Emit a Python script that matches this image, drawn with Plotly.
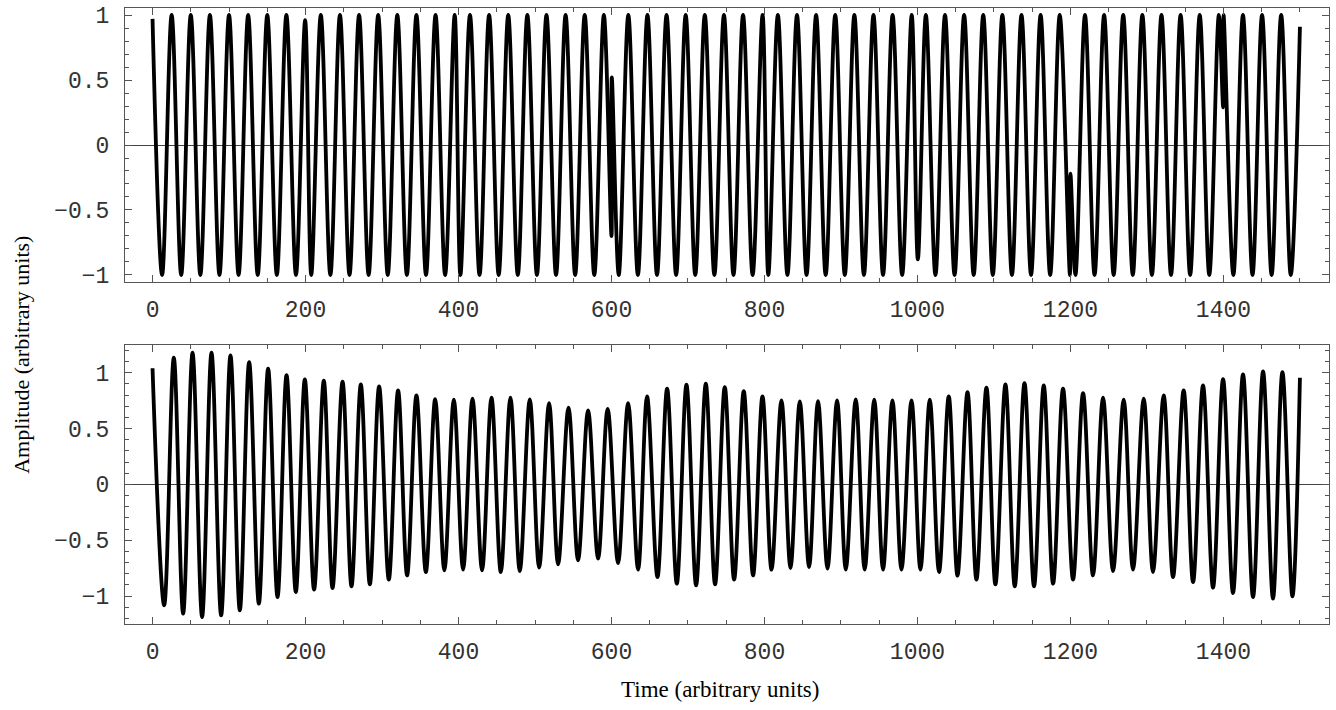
import plotly.graph_objects as go
from plotly.subplots import make_subplots

# upper trace: turning points (time, amplitude)
top_t = [0, 12.5, 25, 37.5, 50, 62.5, 75, 87.5, 100, 112.5, 125, 137.5, 150, 162.5, 175, 187.5,
         199.5, 207.5, 220, 232.5, 245, 257.5, 270, 282.5, 295, 307.5, 320, 332.5, 345, 357.5,
         370, 382.5, 395, 402.5, 415, 427.5, 440, 452.5, 465, 477.5, 490, 502.5, 515, 527.5,
         540, 552.5, 565, 577.5, 590, 600, 600.4, 609.5, 622, 634.5, 647, 659.5, 672, 684.5,
         697, 709.5, 722, 734.5, 747, 759.5, 772, 784.5, 797.5, 805, 817.5, 830, 842.5, 855,
         867.5, 880, 892.5, 905, 917.5, 930, 942.5, 955, 967.5, 980, 992.5, 1000.5, 1011,
         1023.5, 1036, 1048.5, 1061, 1073.5, 1086, 1098.5, 1111, 1123.5, 1136, 1148.5, 1161,
         1173.5, 1186, 1199.3, 1200, 1206.5, 1219, 1231.5, 1244, 1256.5, 1269, 1281.5, 1294,
         1306.5, 1319, 1331.5, 1344, 1356.5, 1369, 1381.5, 1394, 1399.6, 1400.2, 1413, 1425.5,
         1438, 1450.5, 1463, 1475.5, 1488, 1500]
top_y = [0.97, -1, 1, -1, 1, -1, 1, -1, 1, -1, 1, -1, 1, -1, 1, -1,
         0.96, -1, 1, -1, 1, -1, 1, -1, 1, -1, 1, -1, 1, -1,
         1, -1, 1, -1, 1, -1, 1, -1, 1, -1, 1, -1, 1, -1,
         1, -1, 1, -1, 1, -0.70, 0.52, -1, 1, -1, 1, -1, 1, -1,
         1, -1, 1, -1, 1, -1, 1, -1, 1, -1, 1, -1, 1, -1,
         1, -1, 1, -1, 1, -1, 1, -1, 1, -1, 1, -0.88, 1,
         -1, 1, -1, 1, -1, 1, -1, 1, -1, 1, -1, 1,
         -1, 1, -1, -0.22, -1, 1, -1, 1, -1, 1, -1, 1,
         -1, 1, -1, 1, -1, 1, -1, 1, 0.29, 1, -1, 1,
         -1, 1, -1, 1, -1, 0.91]

# lower trace: turning points (time, amplitude)
bot_t = [0, 15.2, 27.8, 40, 52.3, 64.8, 77.1, 89.7, 101.9, 114.1, 126.3, 139, 151.1, 163.4,
         175.2, 187.3, 199.1, 211.2, 223.9, 235.3, 248.4, 260.1, 272.3, 284.1, 296.2, 308.9,
         321, 332.8, 345, 357.3, 369.5, 381.5, 393.9, 406, 418.3, 430.8, 443.1, 455.3, 467.9,
         480.1, 493.2, 505.4, 518.4, 530.2, 543.8, 556.3, 569.4, 582.5, 595, 608.6, 621.7,
         634.8, 646.5, 660.1, 672.7, 685.4, 698, 710.6, 723.3, 735.4, 748.1, 760.3, 772.9,
         785.1, 797.4, 809.2, 822.2, 834, 846.2, 858.3, 870, 882.4, 894.9, 906.3, 919.3, 931,
         943.5, 955, 967.3, 979.1, 992.2, 1003.9, 1016.1, 1028.2, 1040.9, 1052.3, 1065.4,
         1077.1, 1090.2, 1101.9, 1115, 1127.2, 1139.9, 1152.4, 1165.1, 1177.3, 1190.3, 1203.4,
         1216.5, 1229.5, 1242.6, 1255.7, 1269.6, 1281.8, 1295.8, 1307.9, 1321.9, 1334.1, 1348,
         1360.3, 1373.3, 1386.4, 1399.5, 1412.5, 1425.6, 1438.7, 1451.8, 1464.8, 1477.1,
         1490.2, 1500]
bot_y = [1.04, -1.083, 1.134, -1.158, 1.179, -1.188, 1.179, -1.173, 1.155, -1.128, 1.095, -1.068,
         1.036, -1.009, 0.979, -0.964, 0.94, -0.943, 0.928, -0.928, 0.919, -0.913, 0.895, -0.895,
         0.877, -0.853, 0.842, -0.815, 0.797, -0.785, 0.763, -0.77, 0.758, -0.764, 0.767, -0.770,
         0.776, -0.785, 0.776, -0.776, 0.761, -0.746, 0.728, -0.716, 0.687, -0.680, 0.662, -0.665,
         0.677, -0.705, 0.728, -0.764, 0.788, -0.830, 0.857, -0.889, 0.892, -0.904, 0.901, -0.895,
         0.871, -0.853, 0.835, -0.815, 0.788, -0.764, 0.752, -0.749, 0.743, -0.740, 0.746, -0.755,
         0.752, -0.764, 0.761, -0.764, 0.758, -0.764, 0.752, -0.764, 0.752, -0.764, 0.758, -0.785,
         0.788, -0.817, 0.826, -0.853, 0.866, -0.895, 0.895, -0.913, 0.907, -0.913, 0.886, -0.889,
         0.857, -0.853, 0.817, -0.815, 0.776, -0.776, 0.758, -0.764, 0.767, -0.785, 0.797, -0.830,
         0.842, -0.875, 0.886, -0.925, 0.943, -0.973, 0.985, -1.009, 1.012, -1.023, 1.005,
         -1.003, 0.955]

x_ticks = [0, 200, 400, 600, 800, 1000, 1200, 1400]
y_ticks = [-1, -0.5, 0, 0.5, 1]

fig = make_subplots(rows=2, cols=1, vertical_spacing=0.1)

fig.add_trace(go.Scatter(x=top_t, y=top_y, mode="lines",
                         line=dict(color="black", width=3.8, shape="spline")), row=1, col=1)
fig.add_trace(go.Scatter(x=bot_t, y=bot_y, mode="lines",
                         line=dict(color="black", width=3.8, shape="spline")), row=2, col=1)

frame = "#555555"
tickfont = dict(family="Liberation Mono", size=23, color="#333333")
xcommon = dict(range=[-36, 1538], tickvals=x_ticks, ticks="inside", ticklen=7, tickcolor=frame,
               showline=True, linecolor=frame, linewidth=1, mirror="ticks", showgrid=False,
               zeroline=False, tickfont=tickfont, ticklabelstandoff=6, automargin=False,
               minor=dict(dtick=50, tick0=0, ticks="inside", ticklen=4, tickcolor=frame, showgrid=False))
ycommon = dict(tickvals=y_ticks, ticks="inside", ticklen=7, tickcolor=frame,
               showline=True, linecolor=frame, linewidth=1, mirror="ticks", showgrid=False,
               zeroline=True, zerolinecolor="#444444", zerolinewidth=1,
               tickfont=tickfont, ticklabelstandoff=10, automargin=False,
               minor=dict(dtick=0.1, tick0=0, ticks="inside", ticklen=4, tickcolor=frame, showgrid=False))

fig.update_xaxes(**xcommon)
fig.update_yaxes(**ycommon)
fig.update_layout(
    xaxis=dict(domain=[0, 1]), xaxis2=dict(domain=[0, 1]),
    yaxis=dict(domain=[0.5552, 1.0], range=[-1.054, 1.054]),
    yaxis2=dict(domain=[0.0, 0.4529], range=[-1.25, 1.248]),
)

fig.add_annotation(text="Time (arbitrary units)", xref="paper", yref="paper",
                   x=0.494, y=-0.107, xanchor="center", yanchor="middle", showarrow=False,
                   font=dict(family="Liberation Serif", size=23, color="black"))
fig.add_annotation(text="Amplitude (arbitrary units)", xref="paper", yref="paper",
                   x=-0.0855, y=0.437, xanchor="center", yanchor="middle",
                   showarrow=False, textangle=-90,
                   font=dict(family="Liberation Serif", size=22, color="black"))

fig.update_layout(width=1336, height=710, showlegend=False,
                  paper_bgcolor="white", plot_bgcolor="white",
                  margin=dict(l=125, r=7, t=8, b=86, autoexpand=False))

fig.write_html("out.html", config={"displayModeBar": False},
               post_script="document.body.style.margin='0';")
